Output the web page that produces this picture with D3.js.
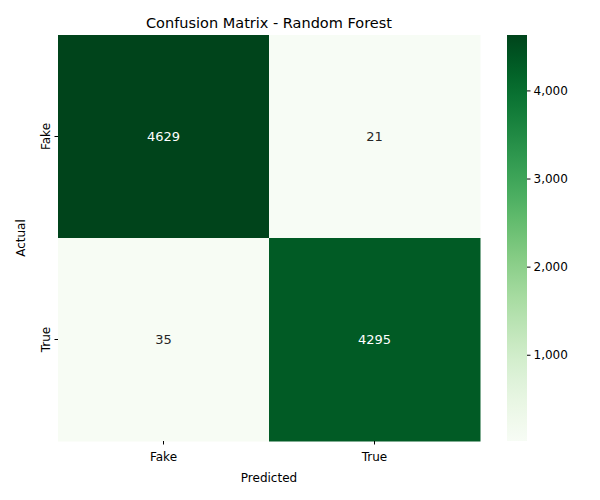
<!DOCTYPE html>
<html><head><meta charset="utf-8">
<script src="https://cdn.jsdelivr.net/npm/d3@7"></script>
<style>body{margin:0;background:#fff}text{font-family:"DejaVu Sans",sans-serif}</style>
</head><body><svg id="c" width="600" height="500"></svg>
<script>
const rowLabels = ["Fake","True"];
const colLabels = ["Fake","True"];
const values = [[4629,21],[35,4295]];
const cbTicks = [1000,2000,3000,4000];

const svg = d3.select("#c");
const L=58,R=480,T=35,B=441;
const x = d3.scaleBand().domain(colLabels).range([L,R]);
const y = d3.scaleBand().domain(rowLabels).range([T,B]);
const flat = values.flat();
const vmin=d3.min(flat), vmax=d3.max(flat);
const color = d3.scaleSequential(d3.interpolateGreens).domain([vmin,vmax]);

const cells=[];
values.forEach((r,i)=>r.forEach((v,j)=>cells.push({r:rowLabels[i],c:colLabels[j],v})));
svg.selectAll("rect.cell").data(cells).join("rect")
 .attr("x",d=>x(d.c)).attr("y",d=>y(d.r)).attr("width",x.bandwidth()+0.5).attr("height",y.bandwidth()+0.5)
 .attr("fill",d=>color(d.v));
svg.selectAll("text.v").data(cells).join("text")
 .attr("x",d=>x(d.c)+x.bandwidth()/2).attr("y",d=>y(d.r)+y.bandwidth()/2).attr("dy","0.35em")
 .attr("text-anchor","middle").attr("font-size",13)
 .attr("fill",d=>(d.v-vmin)/(vmax-vmin)>0.5?"#fff":"#262626").text(d=>d.v);

const xa=svg.append("g").attr("transform",`translate(0,${B})`).call(d3.axisBottom(x).tickSize(3.5));
const ya=svg.append("g").attr("transform",`translate(${L},0)`).call(d3.axisLeft(y).tickSize(3.5));
[xa,ya].forEach(a=>{a.select(".domain").remove();a.selectAll("text").attr("font-size",12).attr("fill","#000");});
xa.selectAll("text").attr("dy","1.1em");
ya.selectAll("text").attr("transform",function(){const t=d3.select(this);return null}).each(function(d){
  const yy=y(d)+y.bandwidth()/2;
  d3.select(this.parentNode).select("text").attr("transform","rotate(-90)").attr("x",0).attr("y",-8).attr("dy","0").attr("text-anchor","middle");
});

svg.append("text").attr("x",(L+R)/2).attr("y",28).attr("text-anchor","middle").attr("font-size",14.5).text("Confusion Matrix - Random Forest");
svg.append("text").attr("x",(L+R)/2).attr("y",482).attr("text-anchor","middle").attr("font-size",12).text("Predicted");
svg.append("text").attr("transform",`translate(25,${(T+B)/2}) rotate(-90)`).attr("text-anchor","middle").attr("font-size",12).text("Actual");

// colorbar
const cx=507,cw=20;
const cy=d3.scaleLinear().domain([vmin,vmax]).range([B,T]);
const defs=svg.append("defs");
const g=defs.append("linearGradient").attr("id","gr").attr("x1",0).attr("y1",1).attr("x2",0).attr("y2",0);
d3.range(0,1.01,0.05).forEach(t=>g.append("stop").attr("offset",t).attr("stop-color",color(vmin+t*(vmax-vmin))));
svg.append("rect").attr("x",cx).attr("y",T).attr("width",cw).attr("height",B-T).attr("fill","url(#gr)");
const ca=svg.append("g").attr("transform",`translate(${cx+cw},0)`).call(d3.axisRight(cy).tickValues(cbTicks).tickSize(3.5));
ca.select(".domain").remove();
ca.selectAll("text").attr("font-size",12).attr("fill","#000");
</script></body></html>
